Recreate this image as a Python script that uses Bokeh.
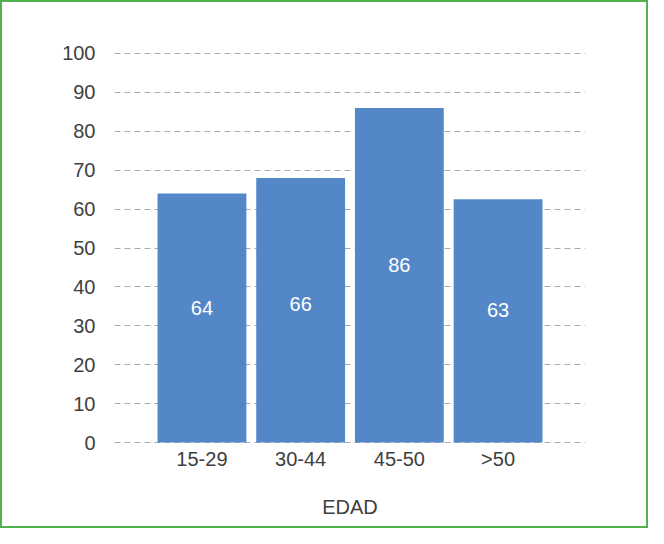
from bokeh.plotting import figure
from bokeh.models import ColumnDataSource, FactorRange, Range1d, SingleIntervalTicker
from bokeh.core.properties import value
from bokeh.embed import file_html
from bokeh.resources import INLINE

categories = ["15-29", "30-44", "45-50", ">50"]
bar_values = [64, 68, 86, 62.5]
label_values = [64, 66, 86, 63]
labels = ["64", "66", "86", "63"]

FONT = "Liberation Sans"
TXT = "#404040"
BAR = "#5387c8"

src = ColumnDataSource(dict(
    cat=categories,
    val=bar_values,
    ly=[v / 2 for v in label_values],
    lab=labels,
))

p = figure(
    x_range=FactorRange(*categories, range_padding=0.386, range_padding_units="absolute"),
    y_range=Range1d(-0.5, 100.5),
    width=646, height=526,
    output_backend="svg", toolbar_location=None,
    min_border_left=112, min_border_top=49, min_border_right=61, min_border_bottom=82,
)
p.frame_width = 471
p.frame_height = 393
p.styles = {"border": "2px solid #52b04e"}
p.outline_line_color = None

p.vbar(x="cat", top="val", width=0.9, source=src, fill_color=BAR, line_color=None)
p.text(x="cat", y="ly", text="lab", source=src, text_align="center",
       text_baseline="middle", y_offset=-10, text_color="white",
       text_font=value(FONT), text_font_size="20px")

p.yaxis.ticker = SingleIntervalTicker(interval=10)
p.ygrid.grid_line_color = "#aaaaaa"
p.ygrid.grid_line_dash = "6 4"
p.ygrid.grid_line_width = 1
p.xgrid.grid_line_color = None

for ax in (p.xaxis[0], p.yaxis[0]):
    ax.axis_line_color = None
    ax.major_tick_line_color = None
    ax.minor_tick_line_color = None
    ax.major_label_text_font = FONT
    ax.major_label_text_font_size = "20px"
    ax.major_label_text_color = TXT

p.yaxis.major_label_standoff = 13
p.xaxis.major_label_standoff = -3
p.xaxis.axis_label = "EDAD"
p.xaxis.axis_label_text_font = FONT
p.xaxis.axis_label_text_font_size = "20px"
p.xaxis.axis_label_text_font_style = "normal"
p.xaxis.axis_label_text_color = TXT
p.xaxis.axis_label_standoff = 23

open("out.html", "w").write(file_html(p, INLINE))
